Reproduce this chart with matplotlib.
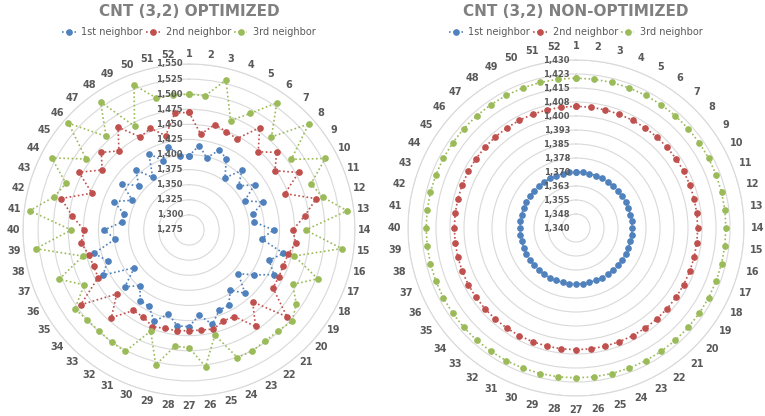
import numpy as np
import matplotlib
matplotlib.use('Agg')
import matplotlib.pyplot as plt
import matplotlib.transforms as mtransforms

# data: bond lengths per atom (52 atoms)
atoms = [str(k) for k in range(1, 53)]

opt_1st = [1398, 1416, 1398, 1417, 1408, 1380, 1407, 1385, 1407, 1379, 1406, 1384, 1384,
           1415, 1396, 1436, 1417, 1434, 1406, 1384, 1415, 1396, 1416, 1417, 1436, 1417,
           1435, 1435, 1418, 1437, 1418, 1417, 1398, 1417, 1385, 1436, 1419, 1437, 1398,
           1416, 1386, 1386, 1408, 1381, 1409, 1386, 1408, 1381, 1418, 1398, 1417, 1399]
opt_2nd = [1470, 1435, 1455, 1449, 1446, 1481, 1448, 1469, 1448, 1480, 1445, 1492, 1468,
           1447, 1453, 1444, 1442, 1443, 1444, 1492, 1434, 1469, 1437, 1436, 1444, 1442,
           1442, 1443, 1443, 1446, 1438, 1437, 1469, 1435, 1493, 1445, 1444, 1446, 1455,
           1449, 1470, 1493, 1447, 1481, 1450, 1469, 1450, 1482, 1449, 1455, 1436, 1470]
opt_3rd = [1500, 1499, 1531, 1469, 1493, 1531, 1481, 1540, 1481, 1530, 1491, 1503, 1539,
           1468, 1530, 1455, 1503, 1469, 1491, 1503, 1498, 1498, 1501, 1501, 1454, 1503,
           1470, 1469, 1505, 1454, 1502, 1501, 1499, 1500, 1505, 1471, 1505, 1456, 1531,
           1470, 1541, 1505, 1493, 1532, 1482, 1542, 1482, 1533, 1469, 1532, 1500, 1500]

non_1st = [1370.0, 1370.0, 1370.0, 1370.0, 1370.0, 1370.0, 1370.0, 1370.0, 1370.0, 1370.0, 1370.0, 1370.0, 1370.0,
           1370.0, 1370.0, 1370.0, 1370.0, 1370.0, 1370.0, 1370.0, 1370.0, 1370.0, 1370.0, 1370.0, 1370.0, 1370.0,
           1370.0, 1370.0, 1370.0, 1370.0, 1370.0, 1370.0, 1370.0, 1370.0, 1370.0, 1370.0, 1370.0, 1370.0, 1370.0,
           1370.0, 1370.0, 1370.0, 1370.0, 1370.0, 1370.0, 1370.0, 1370.0, 1370.0, 1370.0, 1370.0, 1370.0, 1370.0]
non_2nd = [1405.2, 1405.2, 1405.2, 1405.2, 1405.2, 1405.2, 1405.2, 1405.2, 1405.2, 1405.2, 1405.2, 1405.2, 1405.2,
           1405.2, 1405.2, 1405.2, 1405.2, 1405.2, 1405.2, 1405.2, 1405.2, 1405.2, 1405.2, 1405.2, 1405.2, 1405.2,
           1405.2, 1405.2, 1405.2, 1405.2, 1405.2, 1405.2, 1405.2, 1405.2, 1405.2, 1405.2, 1405.2, 1405.2, 1405.2,
           1405.2, 1405.2, 1405.2, 1405.2, 1405.2, 1405.2, 1405.2, 1405.2, 1405.2, 1405.2, 1405.2, 1405.2, 1405.2]
non_3rd = [1420.3, 1420.3, 1420.3, 1420.3, 1420.3, 1420.3, 1420.3, 1420.3, 1420.3, 1420.3, 1420.3, 1420.3, 1420.3,
           1420.3, 1420.3, 1420.3, 1420.3, 1420.3, 1420.3, 1420.3, 1420.3, 1420.3, 1420.3, 1420.3, 1420.3, 1420.3,
           1420.3, 1420.3, 1420.3, 1420.3, 1420.3, 1420.3, 1420.3, 1420.3, 1420.3, 1420.3, 1420.3, 1420.3, 1420.3,
           1420.3, 1420.3, 1420.3, 1420.3, 1420.3, 1420.3, 1420.3, 1420.3, 1420.3, 1420.3, 1420.3, 1420.3, 1420.3]

opt_ticks = [1275, 1300, 1325, 1350, 1375, 1400, 1425, 1450, 1475, 1500, 1525, 1550]
opt_ticklabels = ['1,275', '1,300', '1,325', '1,350', '1,375', '1,400', '1,425', '1,450',
                  '1,475', '1,500', '1,525', '1,550']
non_ticks = [1340, 1347.5, 1355, 1362.5, 1370, 1377.5, 1385, 1392.5, 1400, 1407.5, 1415, 1422.5, 1430]
non_ticklabels = ['1,340', '1,348', '1,355', '1,363', '1,370', '1,378', '1,385', '1,393',
                  '1,400', '1,408', '1,415', '1,423', '1,430']

series_names = ['1st neighbor', '2nd neighbor', '3rd neighbor']
colors = ['#4F81BD', '#C0504D', '#9BBB59']
text_grey = '#595959'
grid_grey = '#d9d9d9'

W, H = 765, 416
fig = plt.figure(figsize=(W / 100, H / 100), dpi=100)


def radar(center, radius, series, ticks, ticklabels, label_r, title):
    cx, cy = center
    ax = fig.add_axes([(cx - radius) / W, (H - cy - radius) / H, 2 * radius / W, 2 * radius / H],
                      projection='polar')
    ax.set_theta_zero_location('N')
    ax.set_theta_direction(-1)
    theta = np.arange(len(atoms)) * 2 * np.pi / len(atoms)
    th = np.append(theta, theta[0])
    lines = []
    for vals, c, name in zip(series, colors, series_names):
        v = np.append(vals, vals[0])
        ln, = ax.plot(th, v, linestyle=(0, (1, 1.5)), linewidth=1.2, color=c, marker='o',
                      markersize=3.8, label=name, zorder=3)
        lines.append(ln)
    ax.set_ylim(ticks[0], ticks[-1])
    ax.set_yticks(ticks[1:])
    ax.set_yticklabels([])
    ax.set_xticks([])
    ax.yaxis.grid(True, color=grid_grey, linewidth=0.8)
    ax.xaxis.grid(False)
    ax.spines['polar'].set_color(grid_grey)
    ax.spines['polar'].set_linewidth(0.8)
    ax.set_facecolor('none')

    # radial value labels along the top spoke
    off = mtransforms.offset_copy(ax.transData, fig=fig, x=-6, y=0, units='dots')
    for t, lab in zip(ticks, ticklabels):
        ax.text(0, t, lab, transform=off, ha='right', va='center', fontsize=6,
                fontweight='bold', color=text_grey, zorder=5)
    # category labels
    for a, lab in zip(theta, atoms):
        ax.text(a, label_r, lab, ha='center', va='center', fontsize=7,
                fontweight='bold', color=text_grey, clip_on=False)

    fig.text(cx / W, 1 - 16 / H, title, ha='center', va='baseline', fontsize=11,
             fontweight='bold', color='#808080')
    fig.legend(handles=lines, loc='center', bbox_to_anchor=(cx / W, 1 - 32 / H), ncol=3,
               frameon=False, fontsize=7, labelcolor=text_grey, handlelength=1.4,
               handletextpad=0.6, columnspacing=0.3, borderpad=0)
    return ax


radar((189, 230), 166, [opt_1st, opt_2nd, opt_3rd], opt_ticks, opt_ticklabels, 1566.6,
      'CNT (3,2) OPTIMIZED')
radar((576, 228), 168, [non_1st, non_2nd, non_3rd], non_ticks, non_ticklabels, 1437.5,
      'CNT (3,2) NON-OPTIMIZED')

fig.savefig('out.png', dpi=100)
